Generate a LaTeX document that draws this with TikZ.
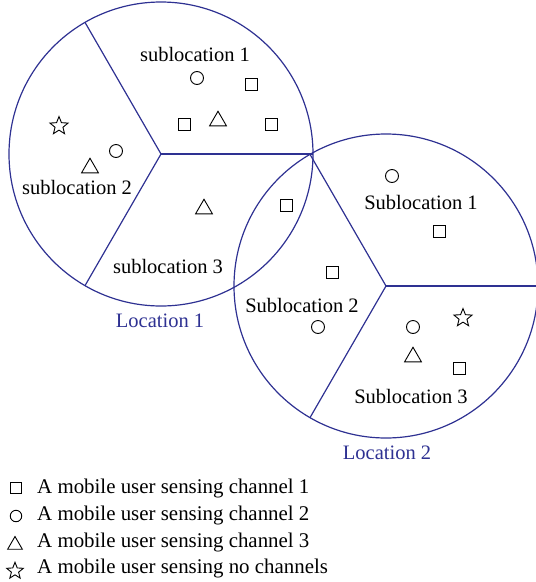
\documentclass[tikz,border=0pt]{standalone}
\usepackage{fontspec}
\setmainfont{Liberation Serif}
\usetikzlibrary{shapes.geometric,calc}
\definecolor{locblue}{RGB}{46,49,146}
\begin{document}
\begin{tikzpicture}[x=1pt,y=-1pt,
  region/.style={draw=locblue, line width=1.2pt},
  lbl/.style={font=\fontsize{20.5}{24}\selectfont, text=black, inner sep=0pt},
  loclbl/.style={font=\fontsize{20.5}{24}\selectfont, text=locblue, inner sep=0pt},
  leg/.style={font=\fontsize{20.9}{24}\selectfont, text=black, inner sep=0pt, anchor=west},
  sq/.style={draw, rectangle, minimum size=12pt, inner sep=0pt, line width=0.9pt},
  ci/.style={draw, circle, minimum size=13pt, inner sep=0pt, line width=0.9pt},
  tri/.style={draw, regular polygon, regular polygon sides=3, minimum size=19.5pt, inner sep=0pt, line width=0.9pt},
  st/.style={draw, star, star points=5, star point ratio=2.3, minimum size=19pt, inner sep=0pt, line width=0.9pt},
  small/.style={minimum size=#1},
]
\useasboundingbox (0,0) rectangle (536,582);
% locations
\coordinate (c1) at (161,154);
\coordinate (c2) at (386,286);
\draw[region] (c1) circle[radius=152];
\draw[region] (c2) circle[radius=152];
\draw[region] (c1) -- ++(0:152) coordinate (c1e);
\draw[region] (c1) -- ++(120:152) coordinate (c1n);
\draw[region] (c1) -- ++(240:152) coordinate (c1s);
\draw[region] (c2) -- ++(0:152) coordinate (c2e);
\draw[region] (c2) -- ++(120:152) coordinate (c2n);
\draw[region] (c2) -- ++(240:152) coordinate (c2s);
% labels
\node[lbl] (l11) at (195,54) {sublocation 1};
\node[lbl] (l12) at (77,187) {sublocation 2};
\node[lbl] (l13) at (168,266) {sublocation 3};
\node[lbl] (l21) at (421,202) {Sublocation 1};
\node[lbl] (l22) at (302,305) {Sublocation 2};
\node[lbl] (l23) at (411,396) {Sublocation 3};
\node[loclbl] (L1) at (160,321) {Location 1};
\node[loclbl] (L2) at (387,453) {Location 2};
% users in location 1
\node[ci] (u1) at (197,78) {};
\node[sq] (u2) at (251,84) {};
\node[sq] (u3) at (184,124) {};
\node[tri] (u4) at (218,121) {};
\node[sq] (u5) at (271,124) {};
\node[st] (u6) at (59,126) {};
\node[ci] (u7) at (116,151) {};
\node[tri] (u8) at (90,168) {};
\node[tri] (u9) at (204,209) {};
\node[sq] (u10) at (286,205) {};
% users in location 2
\node[ci] (v1) at (392,176) {};
\node[sq] (v2) at (439,231) {};
\node[sq] (v3) at (332,272) {};
\node[ci] (v4) at (318,327) {};
\node[ci] (v5) at (413,327) {};
\node[st] (v6) at (463,318) {};
\node[tri] (v7) at (413,357) {};
\node[sq] (v8) at (459,368) {};
% legend
\node[sq, small=10.5pt] (k1) at (16,488) {};
\node[ci, small=11.5pt] (k2) at (16,516) {};
\node[tri, small=17pt] (k3) at (15,545) {};
\node[st, small=17.5pt] (k4) at (15,571) {};
\node[leg] (t1) at (37,488) {A mobile user sensing channel 1};
\node[leg] (t2) at (37,515) {A mobile user sensing channel 2};
\node[leg] (t3) at (37,542) {A mobile user sensing channel 3};
\node[leg] (t4) at (37,568) {A mobile user sensing no channels};
\end{tikzpicture}
\end{document}
